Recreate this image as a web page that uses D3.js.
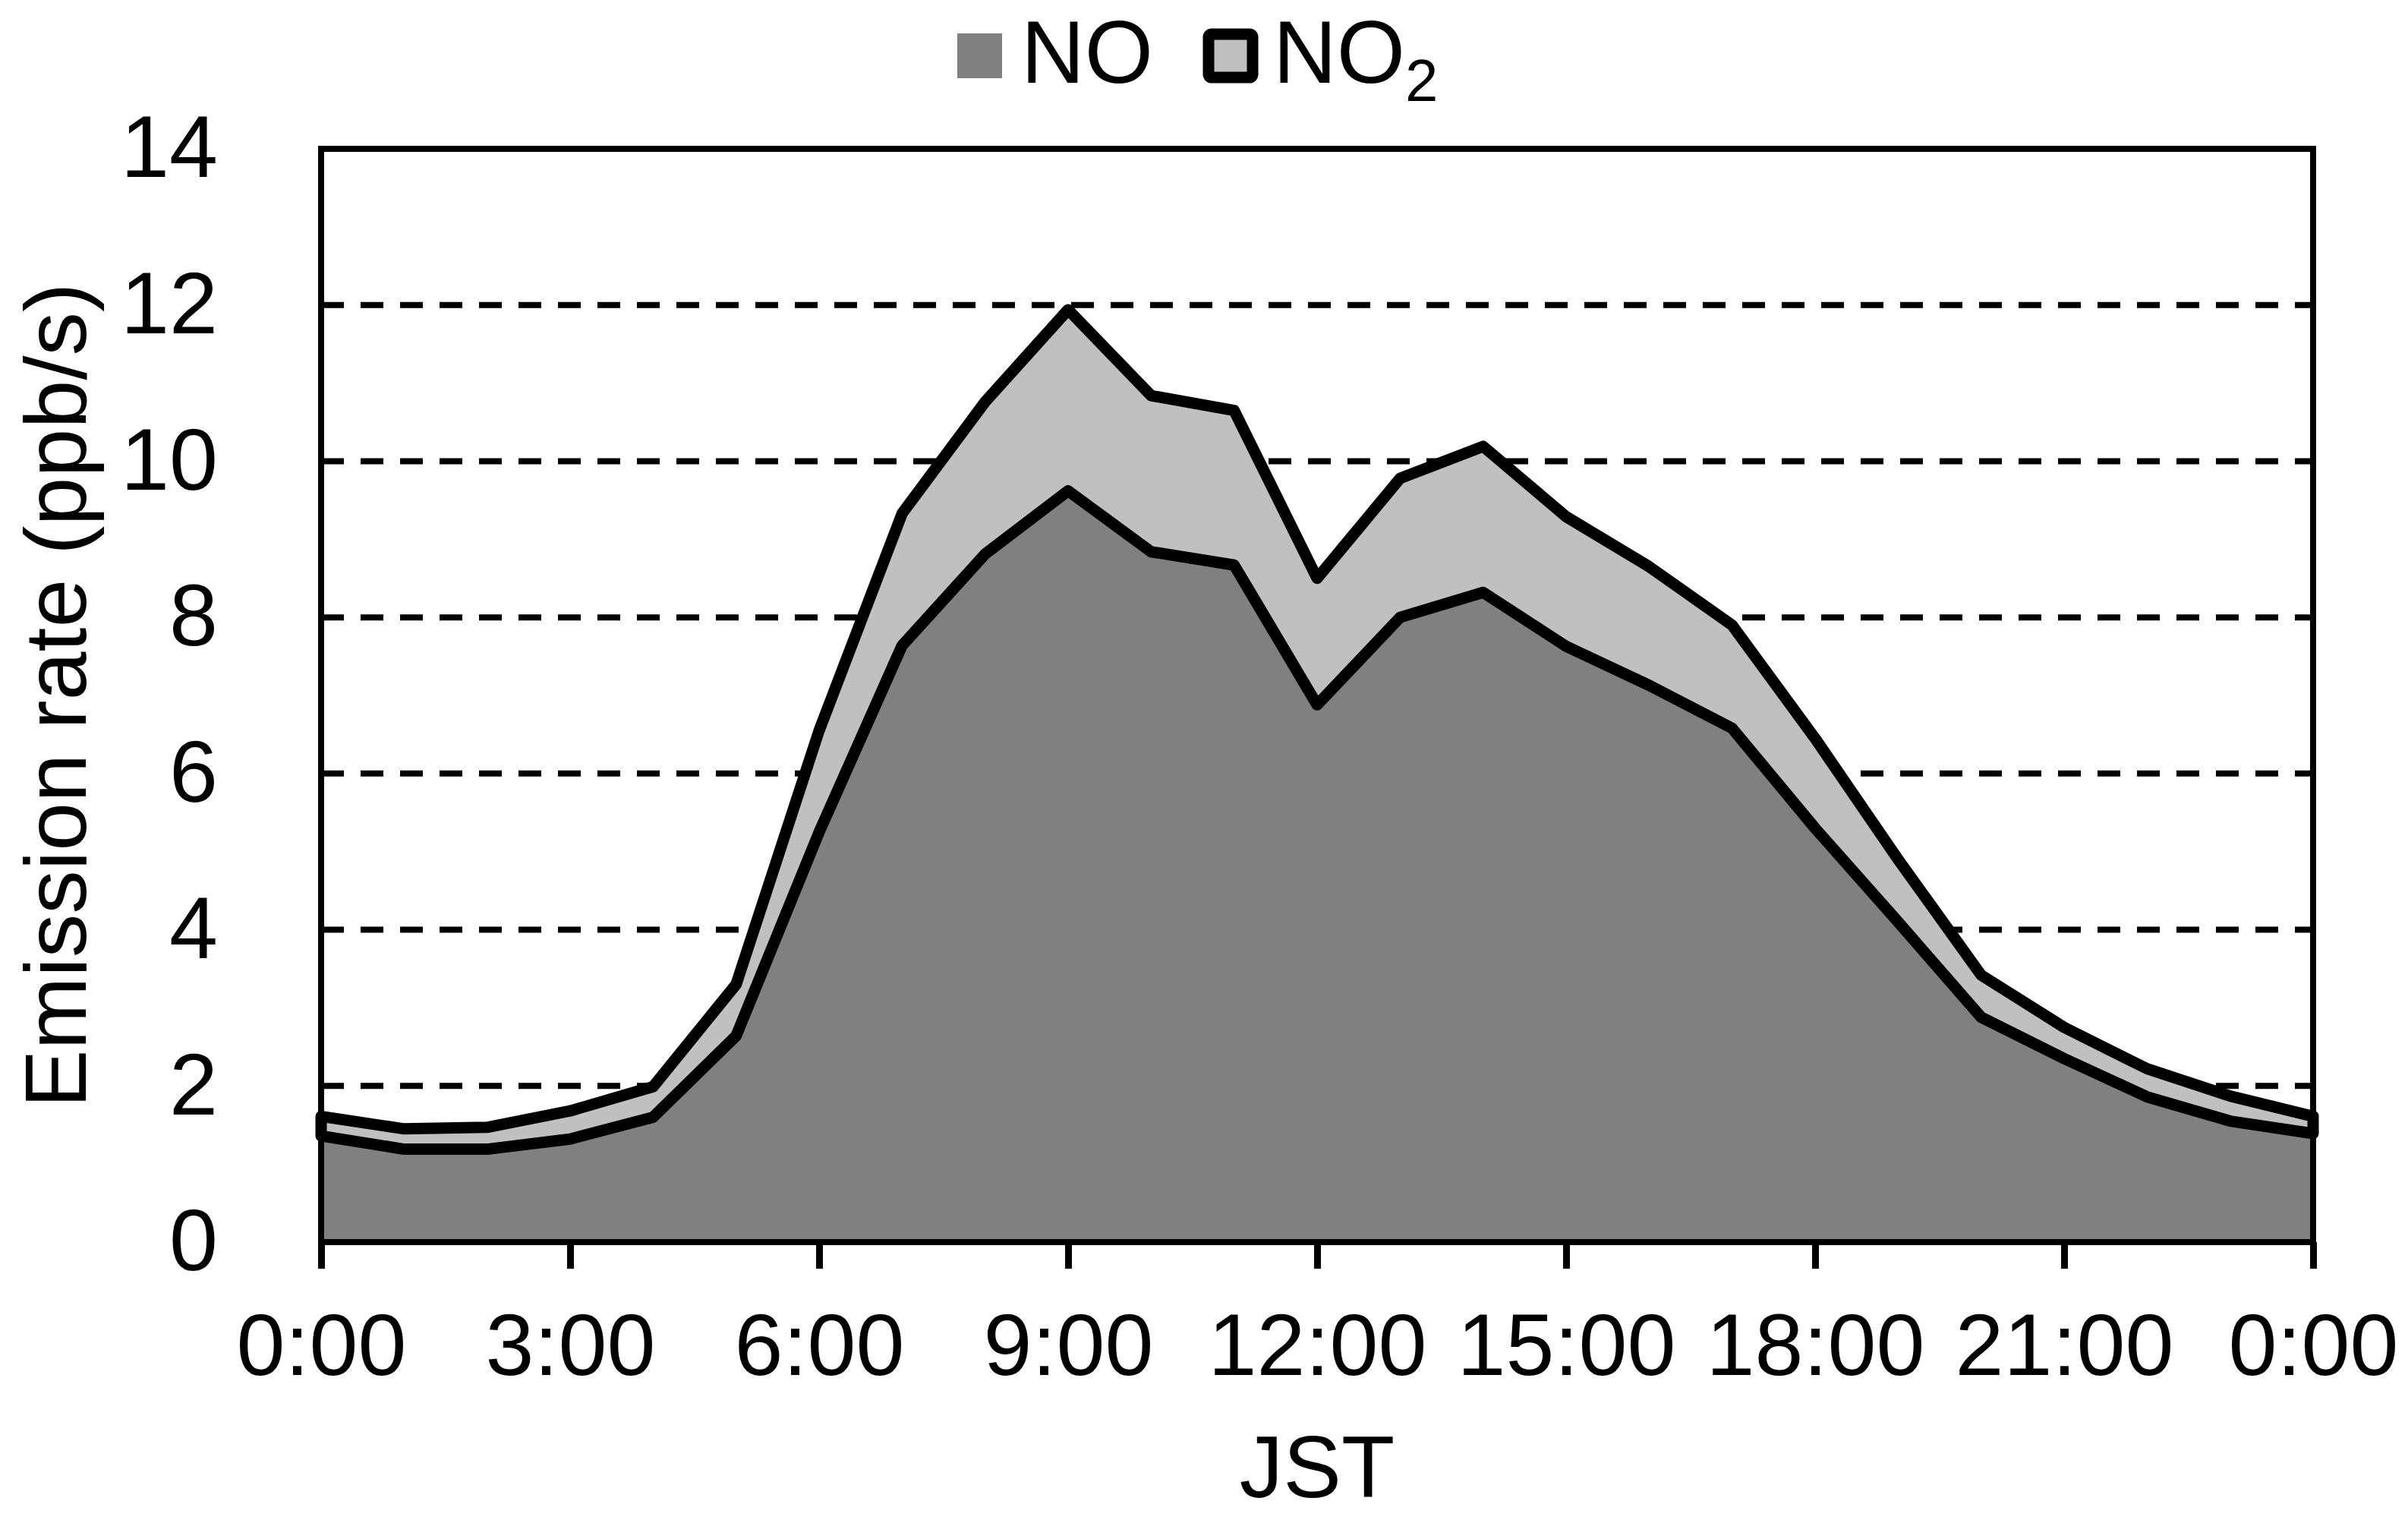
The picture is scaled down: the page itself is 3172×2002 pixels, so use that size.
<!DOCTYPE html>
<html>
<head>
<meta charset="utf-8">
<script src="https://cdn.jsdelivr.net/npm/d3@7"></script>
<style>
  html, body { margin: 0; padding: 0; background: #ffffff; }
  svg { display: block; font-family: "Liberation Sans", Arial, sans-serif; }
</style>
</head>
<body>
<svg id="chart" width="3172" height="2002"></svg>
<script>
// ---- data ----
const hours = [0,1,2,3,4,5,6,7,8,9,10,11,12,13,14,15,16,17,18,19,20,21,22,23,24];
const noValues = [1.36,1.19,1.19,1.32,1.60,2.64,5.25,7.64,8.81,9.62,8.84,8.67,6.88,8.00,8.32,7.63,7.13,6.58,5.30,4.10,2.88,2.35,1.86,1.55,1.39];
const no2Values = [0.25,0.26,0.28,0.36,0.39,0.66,1.30,1.69,1.95,2.32,2.00,1.98,1.62,1.78,1.87,1.66,1.52,1.32,1.15,0.80,0.54,0.40,0.36,0.32,0.22];
const xTickHours = [0,3,6,9,12,15,18,21,24];
const xTickLabels = ["0:00","3:00","6:00","9:00","12:00","15:00","18:00","21:00","0:00"];
const yTicks = [0,2,4,6,8,10,12,14];
const gridValues = [2,4,6,8,10,12];
const seriesNames = ["NO","NO"];
const yTitle = "Emission rate (ppb/s)";
const xTitle = "JST";

// ---- layout ----
const L = 423, R = 3047, T = 196, B = 1636;
const FONT = 115;
const svg = d3.select("#chart");

const x = d3.scaleLinear().domain([0, 24]).range([L, R]);
const y = d3.scaleLinear().domain([0, 14]).range([B, T]);

const rows = hours.map((h, i) => ({ h, no: noValues[i], no2: no2Values[i] }));
const stack = d3.stack().keys(["no", "no2"])(rows);

// gridlines
svg.append("g").selectAll("line").data(gridValues).join("line")
  .attr("x1", L).attr("x2", R)
  .attr("y1", d => y(d)).attr("y2", d => y(d))
  .attr("stroke", "#000").attr("stroke-width", 8)
  .attr("stroke-dasharray", "30,22");

// areas
const area = d3.area()
  .x(d => x(d.data.h))
  .y0(d => y(d[0]))
  .y1(d => y(d[1]));

svg.append("path").datum(stack[0])
  .attr("d", area)
  .attr("fill", "#808080");

svg.append("path").datum(stack[1])
  .attr("d", area)
  .attr("fill", "#c0c0c0")
  .attr("stroke", "#000")
  .attr("stroke-width", 15)
  .attr("stroke-linejoin", "round");

// plot border
svg.append("rect")
  .attr("x", L).attr("y", T)
  .attr("width", R - L).attr("height", B - T)
  .attr("fill", "none").attr("stroke", "#000").attr("stroke-width", 8);

// x axis
const xAxis = d3.axisBottom(x)
  .tickValues(xTickHours)
  .tickFormat((d, i) => xTickLabels[i])
  .tickSize(35)
  .tickPadding(58);
const gx = svg.append("g").attr("transform", `translate(0,${B})`).call(xAxis);
gx.select(".domain").remove();
gx.selectAll(".tick line").attr("stroke", "#000").attr("stroke-width", 9);
gx.selectAll(".tick text")
  .attr("fill", "#000")
  .style("font-size", FONT + "px")
  .style("font-family", '"Liberation Sans", Arial, sans-serif');

// y axis
const yAxis = d3.axisLeft(y)
  .tickValues(yTicks)
  .tickFormat(d3.format("d"))
  .tickSize(0)
  .tickPadding(L - 287);
const gy = svg.append("g").attr("transform", "translate(" + L + ",0)").call(yAxis);
gy.select(".domain").remove();
gy.selectAll(".tick text")
  .attr("fill", "#000")
  .style("font-size", FONT + "px")
  .style("font-family", '"Liberation Sans", Arial, sans-serif');

// axis titles
svg.append("text")
  .attr("transform", `translate(113,${(T + B) / 2}) rotate(-90)`)
  .attr("text-anchor", "middle")
  .style("font-size", FONT + "px")
  .text(yTitle);

svg.append("text")
  .attr("x", (L + R) / 2).attr("y", 1972)
  .attr("text-anchor", "middle")
  .style("font-size", FONT + "px")
  .text(xTitle);

// legend
const lg = svg.append("g");
lg.append("rect")
  .attr("x", 1261).attr("y", 44).attr("width", 59).attr("height", 59)
  .attr("fill", "#808080");
lg.append("text")
  .attr("x", 1345).attr("y", 109)
  .style("font-size", "116px")
  .text(seriesNames[0]);

lg.append("rect")
  .attr("x", 1592).attr("y", 45).attr("width", 58).attr("height", 57)
  .attr("rx", 4)
  .attr("fill", "#c0c0c0").attr("stroke", "#000").attr("stroke-width", 15);
const t2 = lg.append("text")
  .attr("x", 1677).attr("y", 109)
  .style("font-size", "116px");
t2.append("tspan").text(seriesNames[1]);
t2.append("tspan").attr("dy", 24).style("font-size", "78px").text("2");
</script>
</body>
</html>
